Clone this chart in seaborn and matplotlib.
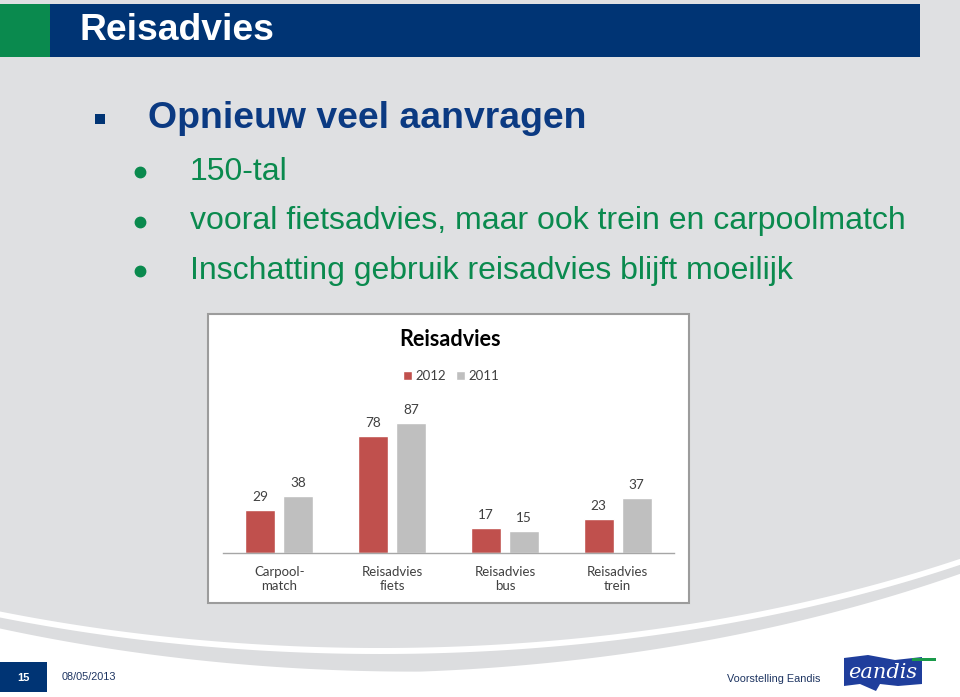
import numpy as np
import pandas as pd
import matplotlib
matplotlib.use('Agg')
import matplotlib.pyplot as plt
import matplotlib.patches as mpatches
import seaborn as sns

# data of the embedded chart
categories = ['Carpool-\nmatch', 'Reisadvies\nfiets', 'Reisadvies\nbus', 'Reisadvies\ntrein']
years = ['2012', '2011']
values_2012 = [29, 78, 17, 23]
values_2011 = [38, 87, 15, 37]

# slide texts
slide_title = 'Reisadvies'
heading = 'Opnieuw veel aanvragen'
bullets = ['150-tal',
           'vooral fietsadvies, maar ook trein en carpoolmatch',
           'Inschatting gebruik reisadvies blijft moeilijk']

BG = '#dfe0e2'
BLUE = '#003474'
GREEN = '#0a8a4e'
RED = '#c0504d'
GREY = '#bfbfbf'

sns.set_theme(style='white')
plt.rcParams['font.family'] = ['Liberation Sans', 'DejaVu Sans']

W, H = 960, 697
fig = plt.figure(figsize=(W / 100, H / 100), dpi=100, facecolor='white')

# slide background in pixel coordinates
bg = fig.add_axes([0, 0, 1, 1], zorder=0)
bg.set_xlim(0, W)
bg.set_ylim(H, 0)
bg.axis('off')

xs = np.linspace(0, W, 400)
a_e, b_e, x0, y0 = 1100.0, 593.0, 380.0, 55.0
curve = y0 + b_e * np.sqrt(1 - ((xs - x0) / a_e) ** 2)
bg.fill_between(xs, 0, curve, color=BG, lw=0)
bg.fill_between(xs, curve + 6, curve + 6 + 9 + 9 * (1 - np.abs(xs - 420) / 540).clip(0),
                color='#dcdddf', lw=0)

# title bar
bg.add_patch(mpatches.Rectangle((0, 4), 50, 53, color=GREEN, lw=0))
bg.add_patch(mpatches.Rectangle((50, 4), 870, 53, color=BLUE, lw=0))
bg.text(80, 31, slide_title, color='white', fontsize=26.8, fontweight='bold',
        va='center', ha='left')

# heading and bullets
bg.add_patch(mpatches.Rectangle((95, 114), 10, 10, color=BLUE, lw=0))
bg.text(148, 119, heading, color='#0b3a82', fontsize=26.9, fontweight='bold',
        va='center', ha='left')
for i, line in enumerate(bullets):
    yy = 172 + i * 49.5
    bg.plot(140, yy, 'o', color=GREEN, ms=7.5)
    bg.text(190, yy, line, color=GREEN, fontsize=23, va='center', ha='left')

# chart frame
bg.add_patch(mpatches.Rectangle((208, 314), 481, 289, facecolor='white',
                                edgecolor='#9c9c9c', lw=1.5))
bg.text(450, 340, 'Reisadvies', fontsize=15.6, fontweight='bold', color='black',
        ha='center', va='center', family=['Lato', 'DejaVu Sans'])

# footer
bg.add_patch(mpatches.Rectangle((0, 662), 47, 30, color=BLUE, lw=0))
bg.text(23, 678, '15', color='white', fontsize=8, fontweight='bold', ha='center', va='center')
bg.text(62, 677, '08/05/2013', color='#1d3461', fontsize=7.8, ha='left', va='center')
bg.text(820, 679, 'Voorstelling Eandis', color='#1d3461', fontsize=7.8, ha='right', va='center')

# logo
logo = np.array([[844, 658], [868, 655], [895, 660], [922, 657], [922, 684],
                 [898, 686], [880, 684], [876, 691], [860, 684], [844, 686]])
bg.add_patch(mpatches.Polygon(logo, closed=True, color='#1f3e9c', lw=0))
bg.add_patch(mpatches.Rectangle((912, 658), 24, 3, color='#1a9a4a', lw=0))
bg.text(883, 673, 'eandis', color='white', fontsize=15, style='italic',
        ha='center', va='center', family=['DejaVu Serif'])

# bar chart
df = pd.DataFrame({
    'categorie': categories * 2,
    'jaar': [years[0]] * len(categories) + [years[1]] * len(categories),
    'aantal': values_2012 + values_2011,
})

ax_left, ax_right, ax_base = 223, 674, 553.3
ymax = 100
ax_h = 1.501 * ymax
ax = fig.add_axes([ax_left / W, 1 - ax_base / H, (ax_right - ax_left) / W, ax_h / H], zorder=1)
ax.patch.set_alpha(0)

sns.barplot(data=df, x='categorie', y='aantal', hue='jaar', hue_order=years,
            palette=[RED, GREY], saturation=1, width=0.674, gap=0.21, ax=ax)
ax.set_xlim(-0.5, len(categories) - 0.5)
ax.set_ylim(0, ymax)
ax.set_xlabel('')
ax.set_ylabel('')
ax.set_yticks([])
for s in ['top', 'right', 'left']:
    ax.spines[s].set_visible(False)
ax.spines['bottom'].set_color('#a6a6a6')
ax.spines['bottom'].set_linewidth(1)
ax.tick_params(axis='x', length=0, pad=9, labelsize=9.5, labelcolor='#404040')
for lbl in ax.get_xticklabels():
    lbl.set_family(['Lato', 'DejaVu Sans'])
    lbl.set_linespacing(1.25)

for cont in ax.containers:
    ax.bar_label(cont, fmt='%d', padding=5, fontsize=9.8, color='#404040',
                 family=['Lato', 'DejaVu Sans'])

handles, labels = ax.get_legend_handles_labels()
ax.get_legend().remove()
fig.legend(handles, labels, loc='center', bbox_to_anchor=(451 / W, 1 - 376 / H),
           ncol=2, frameon=False, handlelength=0.7, handleheight=0.7,
           handletextpad=0.25, columnspacing=0.8,
           prop={'family': ['Lato', 'DejaVu Sans'], 'size': 9.5}, labelcolor='#404040')

plt.savefig('out.png', dpi=100, facecolor='white')
